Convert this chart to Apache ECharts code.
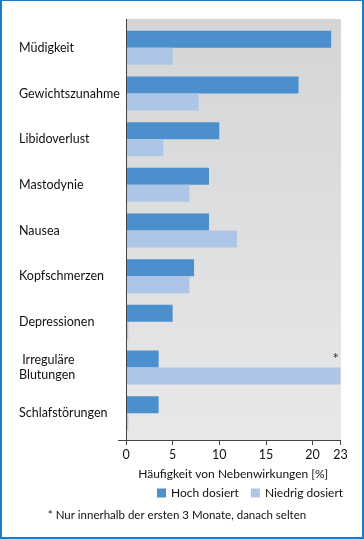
<!DOCTYPE html>
<html>
<head>
<meta charset="utf-8">
<script src="https://cdn.jsdelivr.net/npm/echarts@6/dist/echarts.min.js"></script>
<style>
  html, body { margin: 0; padding: 0; background: #fff; }
  #chart {
    width: 364px; height: 539px; box-sizing: border-box;
    border-style: solid; border-color: #1b7bc5;
    border-width: 1px 2px 2px 2px;
  }
</style>
</head>
<body>
<div id="chart"></div>
<script>
// Nebenwirkungen, Häufigkeit in %
const categories = ['Müdigkeit', 'Gewichtszunahme', 'Libidoverlust', 'Mastodynie', 'Nausea',
  'Kopfschmerzen', 'Depressionen', ' Irreguläre\nBlutungen', 'Schlafstörungen'];
const hochDosiert = [22, 18.5, 10, 8.9, 8.9, 7.3, 5, 3.5, 3.5];
const niedrigDosiert = [5, 7.8, 4, 6.8, 11.9, 6.8, 0.25, 23, 0.25];
const xTicks = { min: 0, max: 23, interval: 5 };

const font = 'Lato';
const txt = '#111';

// the chart sits inside the 1/2px css border, so coordinates are shifted by that
const ox = 2, oy = 1;

let myChart = echarts.init(document.getElementById('chart'));

let option = {
  animation: false,
  textStyle: { fontFamily: font, color: txt },
  grid: { left: 126 - ox, right: 364 - 340.5 - 2, top: 25 - oy, height: 411 },
  xAxis: {
    type: 'value',
    min: xTicks.min, max: xTicks.max, interval: xTicks.interval,
    offset: 4,
    splitLine: { show: false },
    axisLine: { show: true, lineStyle: { color: '#444', width: 1 } },
    axisTick: { show: true, length: 5, lineStyle: { color: '#444' } },
    axisLabel: { fontFamily: font, fontSize: 12.5, color: txt, margin: 8 },
    name: 'Häufigkeit von Nebenwirkungen [%]',
    nameLocation: 'middle',
    nameGap: 28,
    nameTextStyle: { fontFamily: font, fontSize: 12, color: txt }
  },
  yAxis: {
    type: 'category',
    inverse: true,
    data: categories,
    axisLine: { show: false },
    axisTick: { show: false },
    axisLabel: { fontFamily: font, fontSize: 12.5, color: txt, align: 'left', margin: 107, lineHeight: 15 }
  },
  legend: {
    left: 157 - ox, top: 487 - oy, padding: 0,
    itemWidth: 9, itemHeight: 9, itemGap: 12,
    icon: 'rect',
    textStyle: { fontFamily: font, fontSize: 12, color: txt },
    data: ['Hoch dosiert', 'Niedrig dosiert']
  },
  title: {
    text: '* Nur innerhalb der ersten 3 Monate, danach selten',
    left: 177 - ox, top: 509 - oy, textAlign: 'center', padding: 0,
    textStyle: { fontFamily: font, fontSize: 11.5, fontWeight: 'normal', color: txt }
  },
  graphic: [
    {
      type: 'rect', z: -10, silent: true,
      shape: { x: 126 - ox, y: 19 - oy, width: 215, height: 421 },
      style: {
        fill: new echarts.graphic.LinearGradient(0, 0, 0, 1, [
          { offset: 0, color: '#d4d5d7' },
          { offset: 1, color: '#e8e8e8' }
        ])
      }
    },
    {
      type: 'line', z: 100, silent: true,
      shape: { x1: 126.5 - ox, y1: 19 - oy, x2: 126.5 - ox, y2: 445 - oy },
      style: { stroke: '#444', lineWidth: 1 }
    },
    {
      type: 'line', z: 100, silent: true,
      shape: { x1: 118 - ox, y1: 440.5 - oy, x2: 127 - ox, y2: 440.5 - oy },
      style: { stroke: '#444', lineWidth: 1 }
    }
  ],
  series: [
    {
      name: 'Hoch dosiert',
      type: 'bar',
      data: hochDosiert,
      barWidth: 17,
      barGap: '0%',
      itemStyle: { color: '#4b8fcd' }
    },
    {
      name: 'Niedrig dosiert',
      type: 'bar',
      data: niedrigDosiert.map((v, i) => i === 7 ? {
        value: v,
        label: {
          show: true, formatter: '*', position: ['97.7%', -8],
          align: 'center', verticalAlign: 'middle',
          fontFamily: font, fontSize: 15, color: '#333'
        }
      } : v),
      barWidth: 17,
      itemStyle: { color: '#adc6e8' }
    }
  ]
};

option && myChart.setOption(option);
</script>
</body>
</html>
